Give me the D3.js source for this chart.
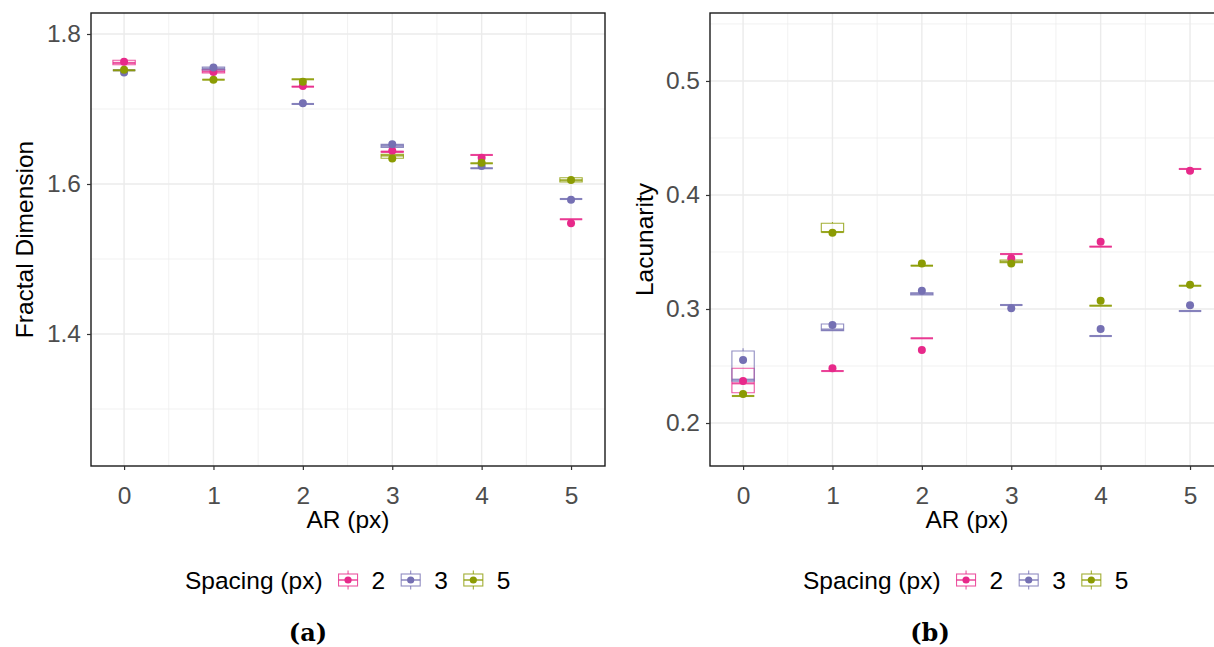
<!DOCTYPE html>
<html>
<head>
<meta charset="utf-8">
<script src="https://cdn.jsdelivr.net/npm/d3@7"></script>
<style>
  body { margin: 0; background: #fff; }
  svg text { font-family: "Liberation Sans", Arial, sans-serif; }
</style>
</head>
<body>
<div id="chart"></div>
<script>
var arLevels = [0, 1, 2, 3, 4, 5];
var spacingLevels = ["2", "3", "5"];
var spacingColors = ["#E7298A", "#7570B3", "#8B9B03"];

// one row per AR level: [ymin, lower, middle, upper, ymax, point]
var fractal2 = [
  [1.759, 1.759, 1.7615, 1.765, 1.765, 1.763],
  [1.748, 1.748, 1.750, 1.7525, 1.7525, 1.7495],
  [1.7298, 1.7298, 1.7298, 1.7298, 1.7298, 1.7307],
  [1.6425, 1.6425, 1.643, 1.6435, 1.6435, 1.6444],
  [1.6387, 1.6387, 1.6387, 1.6387, 1.6387, 1.635],
  [1.553, 1.553, 1.553, 1.553, 1.553, 1.5476]
];
var fractal3 = [
  [1.7516, 1.7516, 1.7516, 1.7516, 1.7516, 1.7488],
  [1.752, 1.752, 1.754, 1.756, 1.756, 1.7553],
  [1.7067, 1.7067, 1.7067, 1.7067, 1.7067, 1.7076],
  [1.6489, 1.6489, 1.651, 1.6529, 1.6529, 1.6529],
  [1.621, 1.621, 1.621, 1.621, 1.621, 1.624],
  [1.580, 1.580, 1.580, 1.580, 1.580, 1.579]
];
var fractal5 = [
  [1.7516, 1.7516, 1.7516, 1.7516, 1.7516, 1.7525],
  [1.7391, 1.7391, 1.7391, 1.7391, 1.7391, 1.7391],
  [1.7396, 1.7396, 1.7396, 1.7396, 1.7396, 1.7364],
  [1.6343, 1.6343, 1.638, 1.6396, 1.6396, 1.634],
  [1.6276, 1.6276, 1.6276, 1.6276, 1.6276, 1.6284],
  [1.6027, 1.6027, 1.605, 1.6084, 1.6084, 1.6053]
];

var lacunarity2 = [
  [0.2265, 0.2265, 0.2348, 0.248, 0.248, 0.2368],
  [0.2456, 0.2456, 0.2456, 0.2456, 0.2456, 0.248],
  [0.2743, 0.2743, 0.2743, 0.2743, 0.2743, 0.264],
  [0.3482, 0.3482, 0.3482, 0.3482, 0.3482, 0.3444],
  [0.3547, 0.3547, 0.3547, 0.3547, 0.3547, 0.359],
  [0.4228, 0.4228, 0.4228, 0.4228, 0.4228, 0.4213]
];
var lacunarity3 = [
  [0.2363, 0.2366, 0.238, 0.2632, 0.2655, 0.2553],
  [0.281, 0.281, 0.282, 0.2868, 0.2868, 0.286],
  [0.3123, 0.3123, 0.3133, 0.3143, 0.3143, 0.316],
  [0.3035, 0.3035, 0.3035, 0.3035, 0.3035, 0.3006],
  [0.2763, 0.2763, 0.2763, 0.2763, 0.2763, 0.2825],
  [0.2982, 0.2982, 0.2982, 0.2982, 0.2982, 0.3032]
];
var lacunarity5 = [
  [0.2237, 0.2237, 0.2237, 0.2237, 0.2237, 0.2254],
  [0.3675, 0.3675, 0.3675, 0.3752, 0.3763, 0.3669],
  [0.338, 0.338, 0.338, 0.338, 0.338, 0.340],
  [0.3406, 0.3406, 0.3415, 0.343, 0.343, 0.340],
  [0.3029, 0.3029, 0.3029, 0.3029, 0.3029, 0.3073],
  [0.3204, 0.3204, 0.3204, 0.3204, 0.3204, 0.3213]
];

var fractalTicks = [1.4, 1.6, 1.8];
var fractalMinor = [1.3, 1.5, 1.7];
var lacunarityTicks = [0.2, 0.3, 0.4, 0.5];
var lacunarityMinor = [0.25, 0.35, 0.45, 0.55];
var arMinor = [0.5, 1.5, 2.5, 3.5, 4.5];

var fontSize = "24.5px";

var svg = d3.select("#chart").append("svg")
  .attr("width", 1214)
  .attr("height", 647);

function drawPanel(opts) {
  var x = d3.scaleLinear().domain([-0.37, 5.38]).range([opts.left, opts.right]);
  var y = d3.scaleLinear().domain(opts.yDomain).range([opts.bottom, opts.top]);
  var g = svg.append("g");
  var boxW = x(0.125) - x(0);

  // grid
  g.selectAll(".minor-y").data(opts.yMinor).enter().append("line")
    .attr("x1", opts.left).attr("x2", opts.right)
    .attr("y1", function (d) { return y(d); }).attr("y2", function (d) { return y(d); })
    .attr("stroke", "#EBEBEB").attr("stroke-width", 0.7);
  g.selectAll(".minor-x").data(arMinor).enter().append("line")
    .attr("y1", opts.top).attr("y2", opts.bottom)
    .attr("x1", function (d) { return x(d); }).attr("x2", function (d) { return x(d); })
    .attr("stroke", "#EBEBEB").attr("stroke-width", 0.7);
  g.selectAll(".major-y").data(opts.yTicks).enter().append("line")
    .attr("x1", opts.left).attr("x2", opts.right)
    .attr("y1", function (d) { return y(d); }).attr("y2", function (d) { return y(d); })
    .attr("stroke", "#EBEBEB").attr("stroke-width", 1.4);
  g.selectAll(".major-x").data(arLevels).enter().append("line")
    .attr("y1", opts.top).attr("y2", opts.bottom)
    .attr("x1", function (d) { return x(d); }).attr("x2", function (d) { return x(d); })
    .attr("stroke", "#EBEBEB").attr("stroke-width", 1.4);

  // boxes
  opts.series.forEach(function (rows, si) {
    var col = spacingColors[si];
    var bg = g.append("g").attr("stroke", col).attr("stroke-opacity", 0.8).attr("fill", "none");
    rows.forEach(function (r, i) {
      var cx = x(arLevels[i]);
      bg.append("path")
        .attr("d", "M" + (cx - boxW) + "," + y(r[3]) + "H" + (cx + boxW) + "V" + y(r[1]) + "H" + (cx - boxW) + "Z")
        .attr("stroke-width", 1.1);
      bg.append("line")
        .attr("x1", cx - boxW).attr("x2", cx + boxW)
        .attr("y1", y(r[2])).attr("y2", y(r[2]))
        .attr("stroke-width", 2.1);
      bg.append("line").attr("x1", cx).attr("x2", cx)
        .attr("y1", y(r[4])).attr("y2", y(r[3])).attr("stroke-width", 1.1);
      bg.append("line").attr("x1", cx).attr("x2", cx)
        .attr("y1", y(r[1])).attr("y2", y(r[0])).attr("stroke-width", 1.1);
    });
  });

  // points
  opts.series.forEach(function (rows, si) {
    g.append("g").selectAll("circle").data(rows).enter().append("circle")
      .attr("cx", function (d, i) { return x(arLevels[i]); })
      .attr("cy", function (d) { return y(d[5]); })
      .attr("r", 4)
      .attr("fill", spacingColors[si]);
  });

  // border
  g.append("rect")
    .attr("x", opts.left).attr("y", opts.top)
    .attr("width", opts.right - opts.left).attr("height", opts.bottom - opts.top)
    .attr("fill", "none").attr("stroke", "#1a1a1a").attr("stroke-width", 1.4);

  // axes
  var xAxis = d3.axisBottom(x).tickValues(arLevels).tickFormat(d3.format("d")).tickSize(4).tickPadding(6);
  var yAxis = d3.axisLeft(y).tickValues(opts.yTicks).tickFormat(d3.format(".1f")).tickSize(4).tickPadding(6);
  var gx = svg.append("g").attr("transform", "translate(0," + opts.bottom + ")").call(xAxis);
  var gy = svg.append("g").attr("transform", "translate(" + opts.left + ",0)").call(yAxis);
  [gx, gy].forEach(function (a) {
    a.select(".domain").remove();
    a.selectAll(".tick line").attr("stroke", "#333").attr("stroke-width", 1.2);
    a.selectAll(".tick text").attr("fill", "#4D4D4D").style("font-size", fontSize)
      .style("font-family", "Liberation Sans, Arial, sans-serif");
  });
  gx.selectAll(".tick text").attr("dy", "1.16em");

  svg.append("text")
    .attr("x", (opts.left + opts.right) / 2).attr("y", 528)
    .attr("text-anchor", "middle").style("font-size", fontSize)
    .text("AR (px)");
  svg.append("text")
    .attr("transform", "translate(" + opts.yTitleX + "," + (opts.top + opts.bottom) / 2 + ") rotate(-90)")
    .attr("text-anchor", "middle").style("font-size", fontSize)
    .text(opts.yTitle);

  // legend
  var lg = svg.append("g").attr("transform", "translate(" + opts.legendX + ",580)");
  var title = lg.append("text").attr("x", 0).attr("y", 8.5).style("font-size", fontSize).text("Spacing (px)");
  var cur = title.node().getComputedTextLength() + 16;
  spacingLevels.forEach(function (s, i) {
    var col = spacingColors[i];
    var k = lg.append("g").attr("transform", "translate(" + (cur + 9.5) + ",0)");
    k.append("rect").attr("x", -9.5).attr("y", -6).attr("width", 19).attr("height", 12)
      .attr("fill", "none").attr("stroke", col).attr("stroke-opacity", 0.8).attr("stroke-width", 1.1);
    k.append("line").attr("x1", -9.5).attr("x2", 9.5).attr("y1", 0).attr("y2", 0)
      .attr("stroke", col).attr("stroke-opacity", 0.8).attr("stroke-width", 1.6);
    k.append("line").attr("x1", 0).attr("x2", 0).attr("y1", -9.5).attr("y2", -6)
      .attr("stroke", col).attr("stroke-opacity", 0.8).attr("stroke-width", 1.1);
    k.append("line").attr("x1", 0).attr("x2", 0).attr("y1", 6).attr("y2", 9.5)
      .attr("stroke", col).attr("stroke-opacity", 0.8).attr("stroke-width", 1.1);
    k.append("circle").attr("r", 3.6).attr("fill", col);
    var lab = lg.append("text").attr("x", cur + 19 + 14).attr("y", 8.5).style("font-size", fontSize).text(s);
    cur = cur + 19 + 14 + lab.node().getComputedTextLength() + 16;
  });

  svg.append("text")
    .attr("x", opts.captionX).attr("y", 641)
    .attr("text-anchor", "middle")
    .style("font-family", "DejaVu Serif, serif").style("font-weight", "bold").style("font-size", "24px")
    .text(opts.caption);
}

drawPanel({
  left: 91, right: 605, top: 13, bottom: 466,
  yDomain: [1.224, 1.828], yTicks: fractalTicks, yMinor: fractalMinor,
  series: [fractal2, fractal3, fractal5],
  yTitle: "Fractal Dimension", yTitleX: 33,
  legendX: 185, caption: "(a)", captionX: 308
});

drawPanel({
  left: 710, right: 1224, top: 13, bottom: 466,
  yDomain: [0.1623, 0.5596], yTicks: lacunarityTicks, yMinor: lacunarityMinor,
  series: [lacunarity2, lacunarity3, lacunarity5],
  yTitle: "Lacunarity", yTitleX: 653,
  legendX: 803, caption: "(b)", captionX: 930
});
</script>
</body>
</html>
